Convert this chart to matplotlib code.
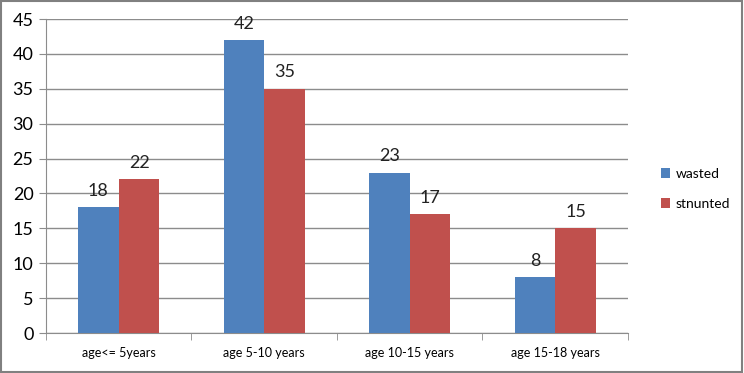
import matplotlib
matplotlib.use("Agg")
import matplotlib.pyplot as plt
import numpy as np
from matplotlib.patches import Rectangle

categories = ["age<= 5years", "age 5-10 years", "age 10-15 years", "age 15-18 years"]
wasted = [18, 42, 23, 8]
stunted = [22, 35, 17, 15]
series_names = ["wasted", "stnunted"]
yticks = [0, 5, 10, 15, 20, 25, 30, 35, 40, 45]

blue = "#4f81bd"
red = "#c0504d"
plt.rcParams['font.family'] = ['Lato', 'DejaVu Sans']

fig = plt.figure(figsize=(7.44, 3.73), dpi=100)
ax = fig.add_axes([46/744, 1-333/373, (628-46)/744, (333-19)/373])

x = np.arange(len(categories))
w = 0.28
b1 = ax.bar(x - w/2, wasted, w, color=blue, label=series_names[0], zorder=3)
b2 = ax.bar(x + w/2, stunted, w, color=red, label=series_names[1], zorder=3)
for bars, vals in ((b1, wasted), (b2, stunted)):
    for r, v in zip(bars, vals):
        ax.text(r.get_x() + r.get_width()/2, v + 1.2, str(v), ha='center', va='bottom',
                fontsize=13, color='#222222')

ax.set_xlim(-0.5, len(categories) - 0.5)
ax.set_ylim(0, 45)
ax.set_yticks(yticks)
ax.set_yticklabels([str(t) for t in yticks], fontsize=13)
ax.yaxis.grid(True, color='#8c8c8c', linewidth=1, zorder=0)
ax.set_xticks(x)
ax.set_xticklabels(categories, fontsize=9)
ax.set_xticks(np.arange(len(categories) + 1) - 0.5, minor=True)
ax.tick_params(axis='x', which='major', length=0, pad=10)
ax.tick_params(axis='x', which='minor', length=5, color='#8c8c8c', direction='out')
ax.tick_params(axis='y', length=5, color='#8c8c8c', direction='out', pad=4)
for s in ['top', 'right']:
    ax.spines[s].set_visible(False)
for s in ['left', 'bottom']:
    ax.spines[s].set_color('#8c8c8c')

leg = fig.legend(handles=[b1, b2], labels=series_names, loc='upper left',
                 bbox_to_anchor=(648/744, 1-155/373), frameon=False, fontsize=10,
                 handlelength=0.7, handleheight=0.7, labelspacing=1.3, handletextpad=0.4)

fig.patches.append(Rectangle((0.002, 0.003), 0.995, 0.994, transform=fig.transFigure,
                             fill=False, edgecolor='#808080', linewidth=1.5))
fig.savefig("out.png", dpi=100)
